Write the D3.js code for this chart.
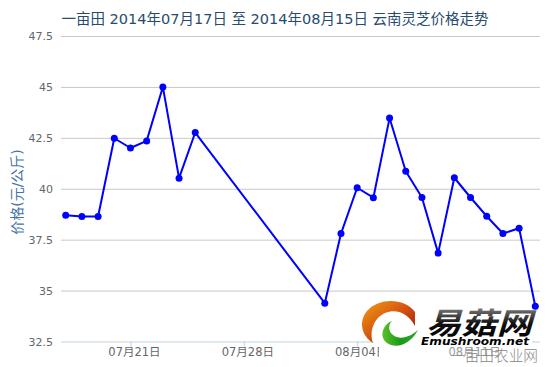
<!DOCTYPE html>
<html>
<head>
<meta charset="utf-8">
<script src="https://cdn.jsdelivr.net/npm/d3@7"></script>
<style>
    body { margin: 0; background: #fff; }
    text { font-family: "DejaVu Sans", "Noto Sans CJK SC", sans-serif; }
</style>
</head>
<body>
<div id="chart"></div>
<script>
// data
const dates = [
    "2014-07-17", "2014-07-18", "2014-07-19", "2014-07-20", "2014-07-21",
    "2014-07-22", "2014-07-23", "2014-07-24", "2014-07-25",
    "2014-08-02", "2014-08-03", "2014-08-04", "2014-08-05", "2014-08-06",
    "2014-08-07", "2014-08-08", "2014-08-09", "2014-08-10", "2014-08-11",
    "2014-08-12", "2014-08-13", "2014-08-14", "2014-08-15"
];
const prices = [
    38.7, 38.64, 38.64, 42.48, 42.0, 42.35, 45.0, 40.52, 42.76,
    34.38, 37.8, 40.05, 39.56, 43.47, 40.86, 39.57, 36.84, 40.54,
    39.57, 38.65, 37.8, 38.06, 34.23
];
const yTicks = [32.5, 35, 37.5, 40, 42.5, 45, 47.5];
const xTickDates = ["2014-07-21", "2014-07-28", "2014-08-04", "2014-08-11"];
const title = "一亩田 2014年07月17日 至 2014年08月15日 云南灵芝价格走势";
const yTitle = "价格(元/公斤)";

const WIDTH = 550,
    HEIGHT = 367;

const parse = d3.timeParse("%Y-%m-%d");
const data = dates.map((d, i) => ({ date: parse(d), price: prices[i] }));

const svg = d3.select("#chart")
    .append("svg")
    .attr("width", WIDTH)
    .attr("height", HEIGHT);

svg.append("rect")
    .attr("width", WIDTH)
    .attr("height", HEIGHT)
    .attr("fill", "#fff");

const plotLeft = 61,
    plotRight = 540;

const yScale = d3.scaleLinear()
    .domain([32.5, 47.5])
    .range([341.5, 36]);

const xScale = d3.scaleTime()
    .domain([parse("2014-07-17"), parse("2014-08-15")])
    .range([65.7, 535.3]);

// title
svg.append("text")
    .attr("x", WIDTH / 2)
    .attr("y", 24)
    .attr("text-anchor", "middle")
    .attr("font-size", 14.5)
    .attr("font-family", "Noto Sans, Noto Sans CJK SC, sans-serif")
    .attr("fill", "#274b6d")
    .text(title);

// grid + y labels
const yAxis = svg.append("g")
    .attr("transform", `translate(${plotLeft}, 0)`)
    .call(d3.axisLeft(yScale).tickValues(yTicks).tickSize(-(plotRight - plotLeft)).tickFormat(d3.format("")));

yAxis.select(".domain").remove();

yAxis.selectAll(".tick line")
    .attr("stroke", (d) => d == 32.5 ? "#C0D0E0" : "#C8C8C8")
    .attr("stroke-width", 1);

yAxis.selectAll(".tick text")
    .attr("x", -8)
    .attr("font-size", 11)
    .attr("fill", "#666")
    .attr("font-family", "DejaVu Sans, sans-serif");

// y axis title
svg.append("text")
    .attr("transform", "translate(22, 192) rotate(-90)")
    .attr("text-anchor", "middle")
    .attr("font-size", 14)
    .attr("fill", "#4572A7")
    .text(yTitle);

// x axis
const xAxis = svg.append("g")
    .attr("transform", `translate(0, 341.5)`)
    .call(d3.axisBottom(xScale)
        .tickValues(xTickDates.map(parse))
        .tickSize(5)
        .tickFormat(d3.timeFormat("%m月%d日")));

xAxis.select(".domain").remove();

xAxis.selectAll(".tick line")
    .attr("stroke", "#C0D0E0");

xAxis.selectAll(".tick text")
    .attr("x", 3.5)
    .attr("y", 6.5)
    .attr("font-size", 11.5)
    .attr("fill", "#666");

// series
const line = d3.line()
    .x((d) => xScale(d.date))
    .y((d) => yScale(d.price));

svg.append("path")
    .datum(data)
    .attr("fill", "none")
    .attr("stroke", "#0000FF")
    .attr("stroke-width", 2)
    .attr("stroke-linejoin", "round")
    .attr("d", line);

svg.append("g")
    .selectAll("circle")
    .data(data)
    .join("circle")
    .attr("cx", (d) => xScale(d.date))
    .attr("cy", (d) => yScale(d.price))
    .attr("r", 3.5)
    .attr("fill", "#0000FF");

// watermark logo
const logo = svg.append("g");
const defs = svg.append("defs");

const gOrange = defs.append("linearGradient")
    .attr("id", "gOrange")
    .attr("x1", 0).attr("y1", 0).attr("x2", 1).attr("y2", 1);
gOrange.append("stop").attr("offset", 0).attr("stop-color", "#f0a010");
gOrange.append("stop").attr("offset", 0.45).attr("stop-color", "#d85a12");
gOrange.append("stop").attr("offset", 1).attr("stop-color", "#9a0c08");

const gGreen = defs.append("linearGradient")
    .attr("id", "gGreen")
    .attr("x1", 0).attr("y1", 0).attr("x2", 1).attr("y2", 0);
gGreen.append("stop").attr("offset", 0).attr("stop-color", "#5cc02a");
gGreen.append("stop").attr("offset", 0.5).attr("stop-color", "#1a9a1a");
gGreen.append("stop").attr("offset", 1).attr("stop-color", "#2aa82a");

const gText = defs.append("linearGradient")
    .attr("id", "gText")
    .attr("x1", 0).attr("y1", 0).attr("x2", 0).attr("y2", 1);
gText.append("stop").attr("offset", 0).attr("stop-color", "#888");
gText.append("stop").attr("offset", 0.5).attr("stop-color", "#111");
gText.append("stop").attr("offset", 1).attr("stop-color", "#000");

// white backing
logo.append("rect")
    .attr("x", 420).attr("y", 336).attr("width", 112).attr("height", 10)
    .attr("fill", "#fff");
logo.append("rect")
    .attr("x", 448).attr("y", 346).attr("width", 92).attr("height", 18)
    .attr("fill", "#fff").attr("opacity", 0.35);
logo.append("ellipse")
    .attr("cx", 390).attr("cy", 324).attr("rx", 26).attr("ry", 24)
    .attr("fill", "#fff");
logo.append("rect")
    .attr("x", 379).attr("y", 340).attr("width", 42).attr("height", 20)
    .attr("fill", "#fff");

// orange crescent
logo.append("path")
    .attr("d", "M415,312 C405,298 379,297 367,311 C358,322 362,336 373,343 C369,331 374,318 385,313 C396,309 407,312 415,326 Z")
    .attr("fill", "url(#gOrange)");

// green swoosh
logo.append("path")
    .attr("d", "M392,321 C382,325 379,337 387,343 C396,349 410,345 418,330 C409,338 399,340 393,335 C388,331 388,325 392,321 Z")
    .attr("fill", "url(#gGreen)");

logo.append("text")
    .attr("x", 426)
    .attr("y", 334)
    .attr("font-size", 30)
    .attr("font-weight", "bold")
    .attr("font-style", "italic")
    .attr("font-family", "Noto Sans CJK SC")
    .attr("textLength", 106)
    .attr("lengthAdjust", "spacingAndGlyphs")
    .attr("fill", "url(#gText)")
    .text("易菇网");

logo.append("text")
    .attr("x", 421)
    .attr("y", 345)
    .attr("font-size", 10)
    .attr("font-weight", "bold")
    .attr("font-style", "italic")
    .attr("font-family", "DejaVu Sans")
    .attr("textLength", 108)
    .attr("lengthAdjust", "spacingAndGlyphs")
    .attr("fill", "#000")
    .text("Emushroom.net");

logo.append("text")
    .attr("x", 450)
    .attr("y", 361)
    .attr("font-size", 15)
    .attr("font-weight", 300)
    .attr("font-family", "Noto Sans CJK SC")
    .attr("textLength", 88)
    .attr("lengthAdjust", "spacingAndGlyphs")
    .attr("fill", "#888")
    .text("一亩田农业网");
</script>
</body>
</html>
